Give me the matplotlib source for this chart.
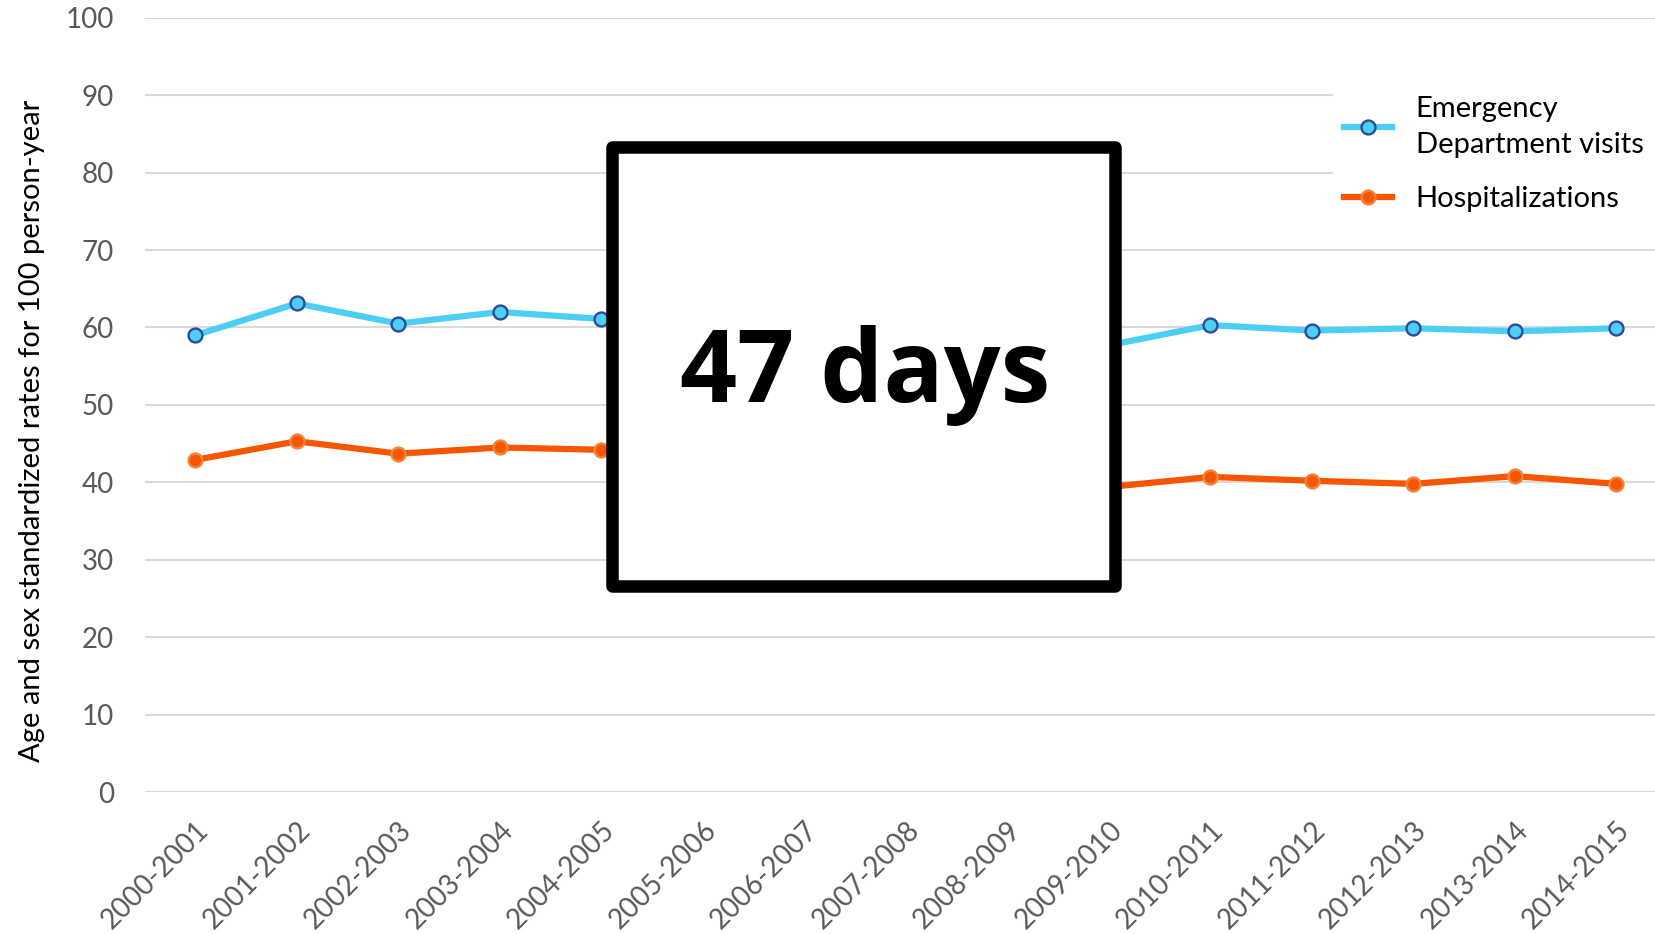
import matplotlib
matplotlib.use("Agg")
import matplotlib.pyplot as plt
from matplotlib.patches import Rectangle

# 데이터 (그림에서 읽은 값, 가려진 구간은 추정)
seasons = ['2000-2001', '2001-2002', '2002-2003', '2003-2004', '2004-2005',
           '2005-2006', '2006-2007', '2007-2008', '2008-2009', '2009-2010',
           '2010-2011', '2011-2012', '2012-2013', '2013-2014', '2014-2015']
ed_visits = [59.0, 63.1, 60.5, 62.0, 61.1, 60.3, 59.6, 59.0, 58.4, 57.7,
             60.3, 59.6, 59.9, 59.5, 59.9]
hospitalizations = [42.9, 45.3, 43.7, 44.5, 44.2, 43.2, 42.2, 41.2, 40.3, 39.4,
                    40.7, 40.2, 39.8, 40.8, 39.8]
yticks = [0, 10, 20, 30, 40, 50, 60, 70, 80, 90, 100]

plt.rcParams['font.family'] = ['Lato', 'DejaVu Sans']

fig = plt.figure(figsize=(16.55, 9.34), dpi=100)
ax = fig.add_axes([0.0874, 0.152, 0.9126, 0.829])

x = range(len(seasons))
ax.plot(x, ed_visits, color='#4DCFF5', lw=4.5, marker='o', ms=10,
        mfc='#4DCFF5', mec='#2B4C9B', mew=1.7, label='Emergency\nDepartment visits', zorder=3)
ax.plot(x, hospitalizations, color='#F75500', lw=4.5, marker='o', ms=10,
        mfc='#F75500', mec='#F5853A', mew=1.7, label='Hospitalizations', zorder=3)

ax.set_xlim(-0.5, 14.38)
ax.set_ylim(0, 100)
ax.set_yticks(yticks)
ax.set_xticks(list(x))
ax.set_xticklabels(seasons, rotation=45, ha='right', rotation_mode='anchor')
ax.tick_params(axis='both', length=0, labelsize=20, labelcolor='#595959')
ax.tick_params(axis='y', pad=22)
ax.tick_params(axis='x', pad=18)
ax.grid(axis='y', color='#D9D9D9', lw=1.5)
ax.set_axisbelow(True)
for s in ax.spines.values():
    s.set_visible(False)

ax.set_ylabel('Age and sex standardized rates for 100 person-year', fontsize=21)
ax.yaxis.set_label_coords(-0.066, 0.467)

leg = ax.legend(loc='upper right', bbox_to_anchor=(1.004, 0.922), frameon=True, fontsize=21,
                handlelength=1.65, handletextpad=0.8, labelspacing=0.95, borderaxespad=0.2)
for t in leg.get_texts():
    t.set_linespacing(1.5)
leg.get_frame().set_edgecolor('white')
leg.get_frame().set_facecolor('white')
leg.get_frame().set_alpha(1)

# 가림 상자
box = Rectangle((0.3700, 0.3730), 0.3040, 0.4700, transform=fig.transFigure,
                facecolor='white', edgecolor='black', lw=9, joinstyle='round', zorder=10)
fig.patches.append(box)
fig.text(0.5225, 0.598, '47 days', fontsize=72, fontweight='bold', ha='center', va='center',
         family=['Open Sans', 'DejaVu Sans'], zorder=11)

fig.savefig('out.png', dpi=100)
